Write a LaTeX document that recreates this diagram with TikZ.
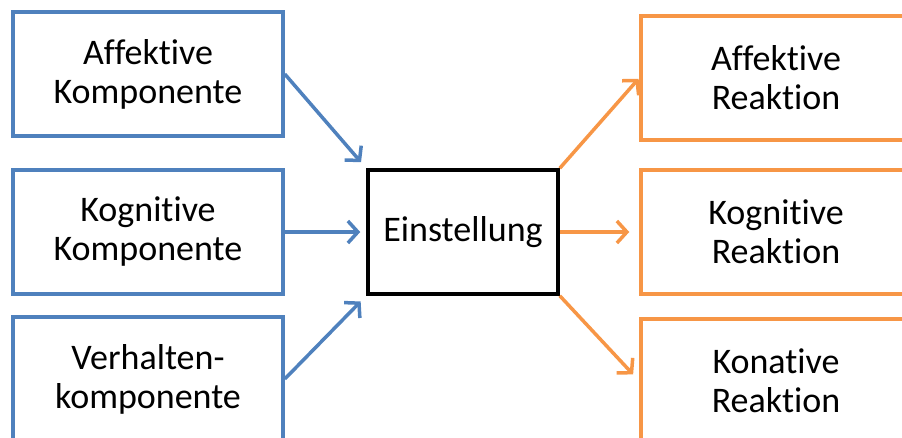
\documentclass[tikz,border=0pt]{standalone}
\usepackage{fontspec}
\setmainfont{Carlito}[RawFeature=-liga,RawFeature=-calt,RawFeature=-dlig,RawFeature=-clig]
\usetikzlibrary{arrows.meta}
\definecolor{lblue}{RGB}{79,129,189}
\definecolor{lorange}{RGB}{247,150,70}
\begin{document}
\begin{tikzpicture}[x=1pt,y=-1pt,
  box/.style={draw, line width=3.5pt, minimum width=270pt, minimum height=124pt,
    align=center, inner sep=0pt, font=\fontsize{36}{39}\selectfont},
  lbox/.style={box, draw=lblue},
  rbox/.style={box, draw=lorange},
  cbox/.style={box, draw=black, minimum width=190pt},
  conn/.style={line width=3.5pt, -{Straight Barb[length=10pt,width=22pt,line width=3.5pt]}},
  bconn/.style={conn, draw=lblue},
  oconn/.style={conn, draw=lorange}]
\useasboundingbox (0,0) rectangle (902,437);
\node[lbox] (a1) at (148,74) {Affektive\\Komponente};
\node[lbox] (a2) at (148,232) {Kognitive\\Komponente};
\node[lbox] (a3) at (148,379) {Verhalten-\\komponente};
\node[cbox] (e) at (463,232) {Einstellung};
\node[rbox] (r1) at (776,78) {Affektive\\Reaktion};
\node[rbox] (r2) at (776,232) {Kognitive\\Reaktion};
\node[rbox] (r3) at (776,381) {Konative\\Reaktion};
\draw[bconn, shorten >=8pt] (a1.east) -- (e.north west);
\draw[bconn, shorten >=6pt] (a2.east) -- (e.west);
\draw[bconn, shorten >=8pt] (a3.east) -- (e.south west);
\draw[oconn, shorten >=1pt] (e.north east) -- (r1.west);
\draw[oconn, shorten >=10pt] (e.east) -- (r2.west);
\draw[oconn, shorten >=9pt] (e.south east) -- (r3.west);
\end{tikzpicture}
\end{document}
